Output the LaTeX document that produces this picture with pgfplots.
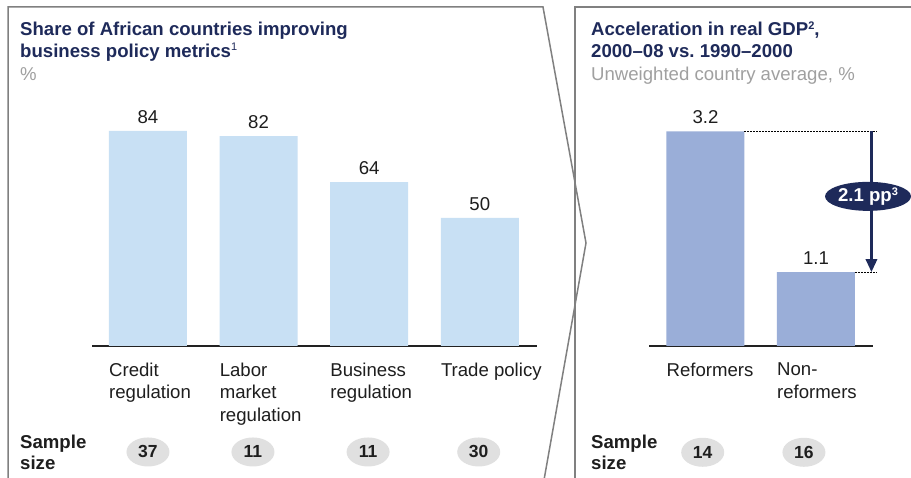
\documentclass[border=0pt]{standalone}
\usepackage{pgfplots}
\pgfplotsset{compat=1.18}
\usepackage{fontspec}
\setmainfont{Liberation Sans}
\usetikzlibrary{shapes.geometric, arrows.meta}
\definecolor{navy}{RGB}{30,42,90}
\definecolor{barlight}{RGB}{200,224,244}
\definecolor{barmid}{RGB}{154,174,216}
\definecolor{ellgray}{RGB}{224,224,224}
\definecolor{framegray}{RGB}{128,128,128}
\definecolor{subgray}{RGB}{160,160,160}
\definecolor{axisblack}{RGB}{34,34,34}
\definecolor{txt}{RGB}{30,30,30}
\frenchspacing
\newcommand{\fs}{\fontsize{18.6}{22.7}\selectfont}
\newcommand{\fn}{\fontsize{17.5}{20}\selectfont}
\newcommand{\mysup}[1]{\raisebox{6.5pt}{\fontsize{11}{11}\selectfont #1}}
\pgfplotsset{/pgf/number format/assume math mode=true}
\pgfplotsset{
  mybars/.style={
    scale only axis, anchor=south west, ymin=0,
    axis x line*=bottom, axis y line=none,
    x axis line style={-, line width=2.6pt, color=axisblack},
    major tick length=0pt, ytick=\empty,
    xticklabel style={anchor=north west, align=left, inner sep=0pt, xshift=-39pt, yshift=-16.5pt, font=\fs, text=txt},
    ybar, bar width=78pt,
    nodes near coords,
    every node near coord/.append style={anchor=south, inner sep=0pt, yshift=7.5pt, font=\fs, text=txt},
    clip=false,
  }
}
\begin{document}
\begin{tikzpicture}[x=1pt,y=1pt]
\path[use as bounding box, fill=white] (0,0) rectangle (911,478);
% frames
\draw[framegray, line width=1.5pt, line join=miter] (8,-2) -- (8,471) -- (543,471) -- (586,235) -- (544,-2);
\draw[framegray, line width=1.5pt] (575,-2) -- (575,471) -- (913,471);
% left titles
\node[anchor=base west, inner sep=0pt, font=\bfseries\fs, text=navy] at (20,442.3) {Share of African countries improving};
\node[anchor=base west, inner sep=0pt, font=\bfseries\fs, text=navy] at (20,420.7) {business policy metrics\mysup{\mdseries 1}};
\node[anchor=base west, inner sep=0pt, font=\fs, text=subgray] at (20,397) {\%};
% right titles
\node[anchor=base west, inner sep=0pt, font=\bfseries\fs, text=navy] at (591,442.3) {Acceleration in real GDP\mysup{2},};
\node[anchor=base west, inner sep=0pt, font=\bfseries\fs, text=navy] at (591,420.7) {2000–08 vs. 1990–2000};
\node[anchor=base west, inner sep=0pt, font=\fs, text=subgray] at (591,397) {Unweighted country average, \%};
% sample size labels
\node[anchor=base west, inner sep=0pt, font=\bfseries\fs, text=txt] at (20,29.7) {Sample};
\node[anchor=base west, inner sep=0pt, font=\bfseries\fs, text=txt] at (20,8.7) {size};
\node[anchor=base west, inner sep=0pt, font=\bfseries\fs, text=txt] at (591,29.7) {Sample};
\node[anchor=base west, inner sep=0pt, font=\bfseries\fs, text=txt] at (591,8.7) {size};

\begin{axis}[mybars,
  at={(92pt,132pt)}, width=445pt, height=256pt,
  xmin=-0.506, xmax=3.517, ymax=100,
  xtick={0,1,2,3},
  xticklabels={{Credit\\regulation},{Labor\\market\\regulation},{Business\\regulation},{Trade policy}},
]
\addplot[fill=barlight, draw=none] coordinates {(0,84) (1,82) (2,64) (3,50)};
\node[ellipse, fill=ellgray, minimum width=43pt, minimum height=29pt, inner sep=0pt, font=\bfseries\fn, text=txt] at (axis cs:0,-41.4) {37};
\node[ellipse, fill=ellgray, minimum width=43pt, minimum height=29pt, inner sep=0pt, font=\bfseries\fn, text=txt] at (axis cs:0.949,-41.4) {11};
\node[ellipse, fill=ellgray, minimum width=43pt, minimum height=29pt, inner sep=0pt, font=\bfseries\fn, text=txt] at (axis cs:1.99,-41.4) {11};
\node[ellipse, fill=ellgray, minimum width=43pt, minimum height=29pt, inner sep=0pt, font=\bfseries\fn, text=txt] at (axis cs:2.99,-41.4) {30};
\end{axis}

\begin{axis}[mybars,
  at={(649pt,132pt)}, width=224pt, height=234.85pt,
  xmin=-0.511, xmax=1.516, ymax=3.5,
  xtick={0,1},
  xticklabels={{Reformers},{Non-\\reformers}},
]
\addplot[fill=barmid, draw=none] coordinates {(0,3.2) (1,1.1)};
\draw[black, line width=0.8pt, dash pattern=on 2pt off 1pt] (axis cs:0.353,3.2) -- (axis cs:1.552,3.2);
\draw[black, line width=0.8pt, dash pattern=on 2pt off 1pt] (axis cs:1.353,1.1) -- (axis cs:1.552,1.1);
\draw[navy, line width=3pt, -{Triangle[width=11pt,length=13pt]}] (axis cs:1.502,3.2) -- (axis cs:1.502,1.1);
\node[ellipse, fill=navy, minimum width=86pt, minimum height=29pt, inner sep=0pt, text=white, font=\bfseries\fs] at (axis cs:1.471,2.23) {2.1 pp\mysup{3}};
\node[ellipse, fill=ellgray, minimum width=43pt, minimum height=29pt, inner sep=0pt, font=\bfseries\fn, text=txt] at (axis cs:-0.025,-1.584) {14};
\node[ellipse, fill=ellgray, minimum width=43pt, minimum height=29pt, inner sep=0pt, font=\bfseries\fn, text=txt] at (axis cs:0.891,-1.584) {16};
\end{axis}
\end{tikzpicture}
\end{document}
